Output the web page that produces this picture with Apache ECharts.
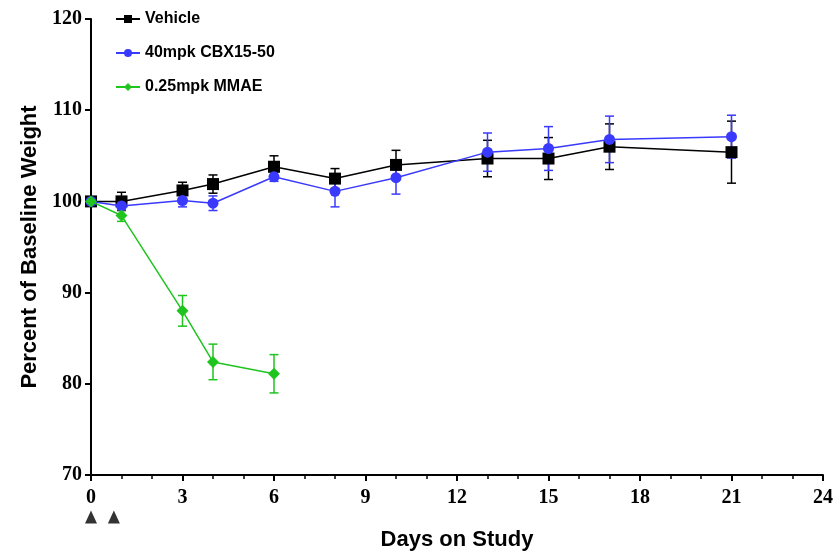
<!DOCTYPE html>
<html>
<head>
<meta charset="utf-8">
<script src="https://cdn.jsdelivr.net/npm/echarts@6/dist/echarts.min.js"></script>
<style>
  html, body { margin: 0; padding: 0; background: #fff; }
  #chart { width: 835px; height: 552px; }
</style>
</head>
<body>
<div id="chart"></div>
<script>
// days of each measurement
const vehicleDays = [0, 1, 3, 4, 6, 8, 10, 13, 15, 17, 21];
const vehicleMean = [100, 100.0, 101.2, 101.9, 103.8, 102.5, 104.0, 104.7, 104.7, 106.0, 105.4];
const vehicleErr  = [0, 1.0, 0.9, 1.0, 1.2, 1.1, 1.6, 2.0, 2.3, 2.5, 3.4];

const cbxDays = [0, 1, 3, 4, 6, 8, 10, 13, 15, 17, 21];
const cbxMean = [100, 99.5, 100.1, 99.8, 102.7, 101.1, 102.6, 105.4, 105.8, 106.8, 107.1];
const cbxErr  = [0, 0.3, 0.7, 0.8, 0.5, 1.7, 1.8, 2.1, 2.4, 2.55, 2.35];

const mmaeDays = [0, 1, 3, 4, 6];
const mmaeMean = [100, 98.45, 88.0, 82.4, 81.1];
const mmaeErr  = [0, 0.64, 1.68, 1.95, 2.1];

// dosing days (arrows under the x axis)
const doseDays = [0, 0.75];
const doseMarkY = 65.4;

const xTicks = [0, 3, 6, 9, 12, 15, 18, 21, 24];
const yTicks = [70, 80, 90, 100, 110, 120];

const BLACK = '#000000';
const BLUE = '#3a3aff';
const GREEN = '#1fc41f';

function pts(days, vals) {
  return days.map((d, i) => [d, vals[i]]);
}

function errData(days, vals, errs) {
  return days.map((d, i) => [d, vals[i] - errs[i], vals[i] + errs[i]]);
}

function errSeries(name, data, color, z) {
  return {
    type: 'custom',
    name: name,
    z: z,
    silent: true,
    data: data,
    encode: { x: 0, y: [1, 2] },
    renderItem(params, api) {
      const x = api.value(0);
      const lo = api.coord([x, api.value(1)]);
      const hi = api.coord([x, api.value(2)]);
      const w = 4.5;
      const style = { stroke: color, lineWidth: 1.5 };
      return {
        type: 'group',
        children: [
          { type: 'line', shape: { x1: lo[0], y1: lo[1], x2: hi[0], y2: hi[1] }, style },
          { type: 'line', shape: { x1: lo[0] - w, y1: lo[1], x2: lo[0] + w, y2: lo[1] }, style },
          { type: 'line', shape: { x1: hi[0] - w, y1: hi[1], x2: hi[0] + w, y2: hi[1] }, style }
        ]
      };
    }
  };
}

const chart = echarts.init(document.getElementById('chart'));

const option = {
  animation: false,
  backgroundColor: '#fff',
  grid: { left: 91, right: 12, top: 19, bottom: 77, outerBoundsMode: 'none', containLabel: false },
  legend: {
    orient: 'vertical',
    left: 110,
    top: 6,
    itemGap: 18,
    itemWidth: 24,
    itemHeight: 10,
    textStyle: { fontFamily: 'Liberation Sans', fontWeight: 'bold', fontSize: 16, color: '#000' },
    data: ['Vehicle', '40mpk CBX15-50', '0.25mpk MMAE']
  },
  xAxis: {
    type: 'value',
    min: 0,
    max: 24,
    interval: 3,
    name: 'Days on Study',
    nameLocation: 'middle',
    nameGap: 54,
    nameTextStyle: { fontFamily: 'Liberation Sans', fontWeight: 'bold', fontSize: 22, color: '#000' },
    axisLine: { lineStyle: { color: '#000', width: 2 } },
    axisTick: { inside: false, length: 6, lineStyle: { color: '#000', width: 2 } },
    minorTick: { show: true, splitNumber: 3, length: 4, lineStyle: { color: '#000', width: 1.5 } },
    axisLabel: { fontFamily: 'Liberation Serif', fontWeight: 'bold', fontSize: 20, color: '#000', margin: 13,
      formatter: v => xTicks.indexOf(v) >= 0 ? String(v) : '' },
    splitLine: { show: false }
  },
  yAxis: {
    type: 'value',
    min: 70,
    max: 120,
    interval: 10,
    name: 'Percent of Baseline Weight',
    nameLocation: 'middle',
    nameGap: 48,
    nameRotate: 90,
    nameTextStyle: { fontFamily: 'Liberation Sans', fontWeight: 'bold', fontSize: 22, color: '#000' },
    axisLine: { show: true, lineStyle: { color: '#000', width: 2 } },
    axisTick: { show: true, inside: false, length: 6, lineStyle: { color: '#000', width: 2 } },
    axisLabel: { fontFamily: 'Liberation Serif', fontWeight: 'bold', fontSize: 20, color: '#000', margin: 9,
      formatter: v => yTicks.indexOf(v) >= 0 ? String(v) : '' },
    splitLine: { show: false }
  },
  series: [
    errSeries('Vehicle err', errData(vehicleDays, vehicleMean, vehicleErr), BLACK, 2),
    errSeries('CBX err', errData(cbxDays, cbxMean, cbxErr), BLUE, 3),
    errSeries('MMAE err', errData(mmaeDays, mmaeMean, mmaeErr), GREEN, 4),
    {
      name: 'Vehicle', type: 'line', z: 5,
      data: pts(vehicleDays, vehicleMean),
      symbol: 'rect', symbolSize: 12,
      itemStyle: { color: BLACK },
      lineStyle: { color: BLACK, width: 1.5 }
    },
    {
      name: '40mpk CBX15-50', type: 'line', z: 6,
      data: pts(cbxDays, cbxMean),
      symbol: 'circle', symbolSize: 11,
      itemStyle: { color: BLUE },
      lineStyle: { color: BLUE, width: 1.5 }
    },
    {
      name: '0.25mpk MMAE', type: 'line', z: 7,
      data: pts(mmaeDays, mmaeMean),
      symbol: 'diamond', symbolSize: 12,
      itemStyle: { color: GREEN },
      lineStyle: { color: GREEN, width: 1.5 }
    },
    {
      name: 'dose', type: 'scatter', z: 8,
      clip: false, silent: true,
      data: doseDays.map(d => [d, doseMarkY]),
      symbol: 'triangle', symbolSize: [12, 13],
      itemStyle: { color: '#000' }
    }
  ]
};

chart.setOption(option);
</script>
</body>
</html>
